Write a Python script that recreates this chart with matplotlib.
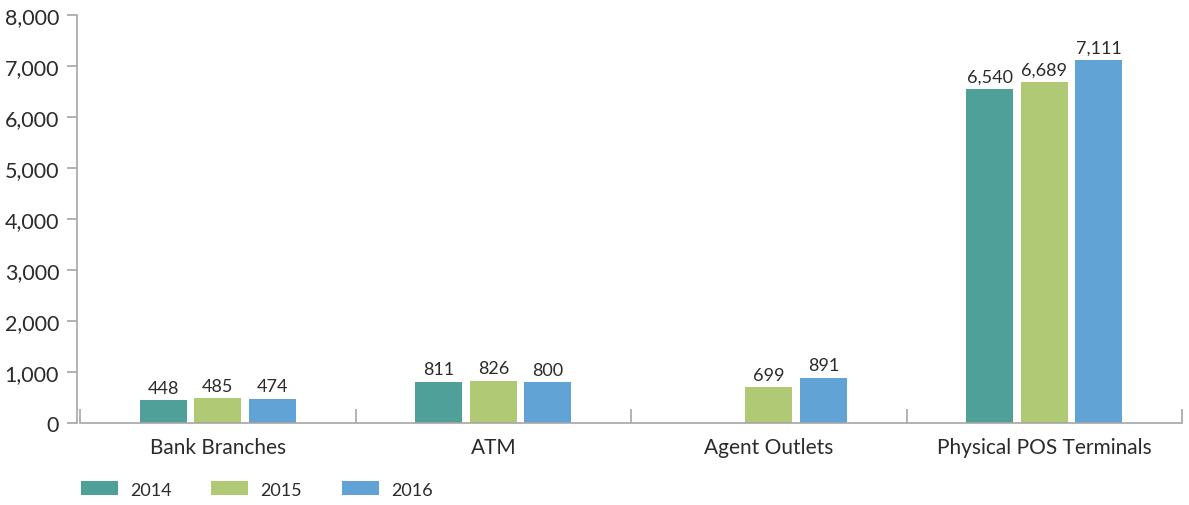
import numpy as np
import matplotlib.pyplot as plt
from matplotlib.ticker import FuncFormatter, FixedLocator
from matplotlib.patches import Patch

plt.rcParams['font.family'] = ['Lato', 'DejaVu Sans']

categories = ['Bank Branches', 'ATM', 'Agent Outlets', 'Physical POS Terminals']
years = ['2014', '2015', '2016']
values_2014 = [448, 811, np.nan, 6540]
values_2015 = [485, 826, 699, 6689]
values_2016 = [474, 800, 891, 7111]
colors = ['#4FA098', '#AFC974', '#62A3D6']

text_color = '#2b2b2b'
axis_color = '#a6a6a6'

fig = plt.figure(figsize=(11.89, 5.06), dpi=100)
ax = fig.add_axes([80 / 1189, 1 - 424 / 506, 1102 / 1189, 408 / 506])

x = np.arange(len(categories))
width = 0.17
step = 0.198
series = [values_2014, values_2015, values_2016]
for i, (vals, col) in enumerate(zip(series, colors)):
    pos = x + (i - 1) * step
    ax.bar(pos, vals, width=width, color=col, zorder=2)
    for p, v in zip(pos, vals):
        if np.isnan(v):
            continue
        ax.text(p, v + 90, f'{int(v):,}', ha='center', va='bottom',
                fontsize=13, color=text_color)

ax.set_xlim(-0.5, len(categories) - 0.5)
ax.set_ylim(0, 8000)
ax.set_yticks(np.arange(0, 8001, 1000))
ax.yaxis.set_major_formatter(FuncFormatter(lambda v, _: f'{int(v):,}'))

ax.set_xticks(x)
ax.set_xticklabels(categories)
ax.xaxis.set_minor_locator(FixedLocator(np.arange(-0.5, len(categories), 1.0)))
ax.tick_params(axis='x', which='major', length=0, pad=10, labelsize=15, labelcolor=text_color)
ax.tick_params(axis='x', which='minor', direction='in', length=10, color=axis_color, width=1.2)
ax.tick_params(axis='y', length=7, color=axis_color, width=1.2, pad=6,
               labelsize=15.5, labelcolor=text_color)

for side in ['top', 'right']:
    ax.spines[side].set_visible(False)
for side in ['left', 'bottom']:
    ax.spines[side].set_color(axis_color)
    ax.spines[side].set_linewidth(1.2)
ax.spines['left'].set_position(('outward', 2))

handles = [Patch(facecolor=c, label=y) for c, y in zip(colors, years)]
fig.legend(handles=handles, loc='center left', bbox_to_anchor=(81 / 1189, 1 - 490.5 / 506),
           ncol=3, frameon=False, fontsize=13, handlelength=2.05, handleheight=0.83,
           handletextpad=0.67, columnspacing=2.2, borderpad=0, borderaxespad=0,
           labelcolor=text_color)

fig.savefig('out.png', dpi=100)
